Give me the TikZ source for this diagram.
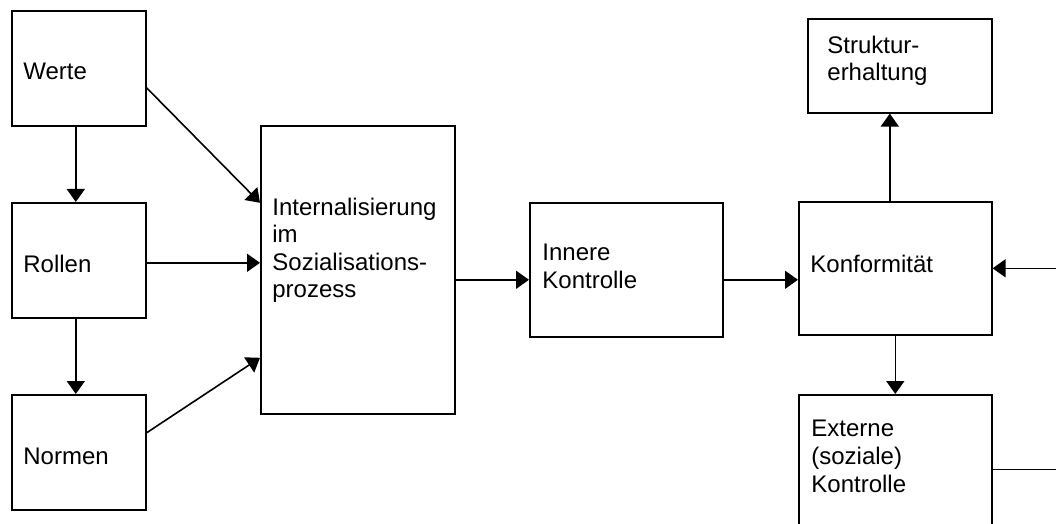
\documentclass[tikz,border=0pt]{standalone}
\usepackage{fontspec}
\setmainfont{Liberation Sans}
\usetikzlibrary{arrows.meta}
\begin{document}
\begin{tikzpicture}[x=0.5pt,y=-0.5pt,
  box/.style={draw, line width=0.8pt, anchor=north west, inner sep=0pt},
  lbl/.style={anchor=base west, inner sep=0pt, align=left, font=\fontsize{12}{13.8}\selectfont},
  arr/.style={-{Triangle[length=6.5pt,width=9pt]}, line width=0.8pt}]
\useasboundingbox (0,0) rectangle (1056,524);
\clip (0,0) rectangle (1056,524);
% boxes
\node[box, minimum width=67pt, minimum height=57.5pt] (werte) at (11,10) {};
\node[box, minimum width=67pt, minimum height=57.5pt] (rollen) at (11,202) {};
\node[box, minimum width=67pt, minimum height=57.5pt] (normen) at (11,394) {};
\node[box, minimum width=97pt, minimum height=144pt] (int) at (260,125) {};
\node[box, minimum width=96.5pt, minimum height=67pt] (innere) at (529,202) {};
\node[box, minimum width=96.5pt, minimum height=66.5pt] (konf) at (798,201) {};
\node[box, minimum width=92pt, minimum height=47pt] (struktur) at (807,18) {};
\node[box, minimum width=96.5pt, minimum height=83pt] (externe) at (798,394) {};
% labels (anchor = baseline of last line)
\node[lbl] (twerte) at (23,80) {Werte};
\node[lbl] (trollen) at (23,272) {Rollen};
\node[lbl] (tnormen) at (23,464) {Normen};
\node[lbl] (tint) at (272,298) {Internalisierung\\im\\Sozialisations-\\prozess};
\node[lbl] (tinnere) at (542,288.5) {Innere\\Kontrolle};
\node[lbl] (tkonf) at (810,272) {Konformität};
\node[lbl] (tstruktur) at (827,81) {Struktur-\\erhaltung};
\node[lbl] (texterne) at (811,492) {Externe\\(soziale)\\Kontrolle};
% connectors
\draw[arr] ([xshift=-1.5pt]werte.south) -- ([xshift=-1.5pt]rollen.north);
\draw[arr] ([xshift=-1.5pt]rollen.south) -- ([xshift=-1.5pt]normen.north);
\draw[arr] ([yshift=-9.75pt]werte.east) -- ([yshift=33.5pt]int.west);
\draw[arr] ([yshift=-1.25pt]rollen.east) -- ([yshift=-1.25pt]rollen.east -| int.west);
\draw[arr] ([yshift=9.75pt]normen.east) -- ([yshift=-44pt]int.west);
\draw[arr] ([yshift=-5pt]innere.west -| int.east) -- ([yshift=-5pt]innere.west);
\draw[arr] ([yshift=-5pt]innere.east) -- ([yshift=-5pt]innere.east -| konf.west);
\draw[arr] ([xshift=-2.75pt]konf.north) -- ([xshift=-2.75pt]konf.north |- struktur.south);
\draw[arr] (konf.south) -- (externe.north);
\draw[arr] ([yshift=-37.75pt]externe.north east) -- ++(50pt,0) |- (konf.east);
\end{tikzpicture}
\end{document}
